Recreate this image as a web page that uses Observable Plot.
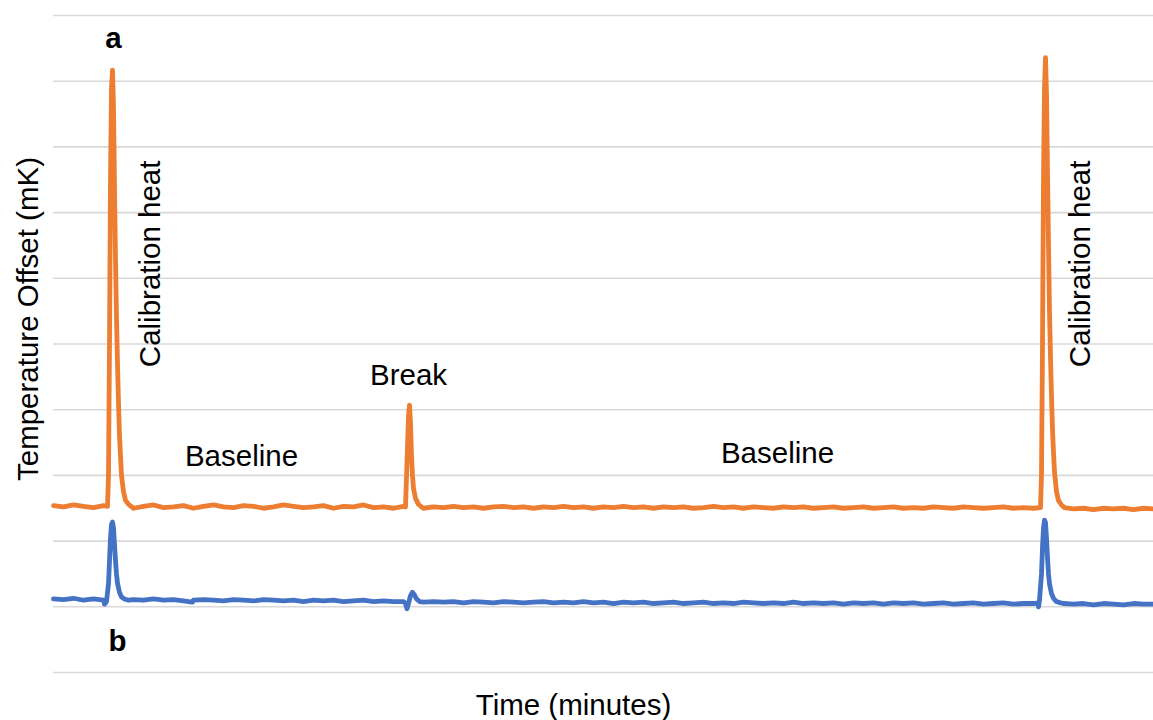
<!DOCTYPE html>
<html>
<head>
<meta charset="utf-8">
<script src="https://cdn.jsdelivr.net/npm/d3@7"></script>
<script src="https://cdn.jsdelivr.net/npm/@observablehq/plot@0.6"></script>
<style>
  body { margin: 0; background: #ffffff; }
  svg { font-family: "Liberation Sans", Arial, sans-serif; }
</style>
</head>
<body>
<div id="chart"></div>
<script>
// Trace a (orange): [time (min), temperature offset (grid units)]
const traceA = [
  [0,1.54],[1,1.52],[2,1.55],[3,1.53],[4,1.51],[5,1.54],[5.4,1.53],
  [5.5,2.0],[5.6,4.0],[5.7,6.5],[5.8,7.9],[5.9,8.17],[6.0,7.6],[6.1,6.4],[6.2,5.3],[6.3,4.4],
  [6.4,3.7],[6.5,3.1],[6.6,2.6],[6.7,2.3],[6.8,2.0],[7.0,1.75],[7.2,1.62],[7.5,1.56],
  [8,1.50],[9,1.53],[10,1.55],[11,1.51],[12,1.52],[13,1.54],[14,1.50],[15,1.53],[16,1.55],
  [17,1.52],[18,1.51],[19,1.54],[20,1.53],[21,1.50],[22,1.52],[23,1.55],[24,1.53],[25,1.51],
  [26,1.52],[27,1.54],[28,1.50],[29,1.53],[30,1.52],[31,1.55],[32,1.51],[33,1.52],[34,1.50],
  [35,1.53],[35.2,1.52],
  [35.35,2.2],[35.5,2.9],[35.6,3.07],[35.7,2.8],[35.8,2.3],[35.9,2.0],[36.0,1.8],[36.2,1.65],
  [36.5,1.56],[36.8,1.52],
  [37,1.50],[38,1.52],[39,1.51],[40,1.53],[41,1.51],[42,1.52],[43,1.50],[44,1.52],[45,1.53],
  [46,1.51],[47,1.52],[48,1.50],[49,1.52],[50,1.51],[51,1.53],[52,1.51],[53,1.52],[54,1.50],
  [55,1.52],[56,1.51],[57,1.53],[58,1.51],[59,1.52],[60,1.50],[61,1.52],[62,1.51],[63,1.52],
  [64,1.50],[65,1.51],[66,1.53],[67,1.51],[68,1.52],[69,1.50],[70,1.52],[71,1.51],[72,1.50],
  [73,1.52],[74,1.51],[75,1.52],[76,1.50],[77,1.51],[78,1.52],[79,1.50],[80,1.51],[81,1.52],
  [82,1.50],[83,1.51],[84,1.52],[85,1.50],[86,1.51],[87,1.50],[88,1.52],[89,1.51],[90,1.50],
  [91,1.52],[92,1.51],[93,1.50],[94,1.51],[95,1.52],[96,1.50],[97,1.51],[98,1.50],[98.7,1.51],
  [98.8,2.0],[98.9,4.0],[99.0,6.5],[99.1,7.9],[99.2,8.36],[99.3,7.8],[99.4,6.6],[99.5,5.5],
  [99.6,4.5],[99.7,3.8],[99.8,3.2],[99.9,2.7],[100.0,2.35],[100.1,2.05],[100.3,1.75],
  [100.5,1.62],[100.8,1.55],[101.1,1.51],
  [102,1.49],[103,1.50],[104,1.48],[105,1.50],[106,1.49],[107,1.50],[108,1.48],[109,1.50],[110,1.49]
];

// Trace b (blue)
const traceB = [
  [0,0.12],[1,0.11],[2,0.13],[3,0.10],[4,0.12],[5,0.10],[5.1,0.04],[5.3,0.08],
  [5.5,0.35],[5.6,0.7],[5.7,1.05],[5.8,1.25],[5.9,1.29],[6.0,1.2],[6.1,0.95],[6.2,0.7],
  [6.3,0.5],[6.4,0.36],[6.6,0.22],[6.8,0.15],[7.1,0.12],[7.5,0.10],
  [8,0.11],[9,0.10],[10,0.12],[11,0.10],[12,0.11],[13,0.09],[13.9,0.07],[14,0.10],[15,0.11],
  [16,0.10],[17,0.09],[18,0.11],[19,0.10],[20,0.09],[21,0.11],[22,0.10],[23,0.09],[24,0.10],
  [25,0.08],[26,0.10],[27,0.09],[28,0.10],[29,0.08],[30,0.09],[31,0.10],[32,0.08],[33,0.09],
  [34,0.08],[35,0.08],[35.2,0.05],
  [35.35,-0.03],[35.5,0.05],[35.7,0.17],[35.9,0.22],[36.1,0.18],[36.3,0.12],[36.6,0.08],
  [37,0.07],[38,0.08],[39,0.07],[40,0.08],[41,0.06],[42,0.08],[43,0.07],[44,0.06],[45,0.08],
  [46,0.07],[47,0.06],[48,0.07],[49,0.08],[50,0.06],[51,0.07],[52,0.06],[53,0.08],[54,0.06],
  [55,0.07],[56,0.05],[57,0.07],[58,0.06],[59,0.07],[60,0.05],[61,0.06],[62,0.07],[63,0.05],
  [64,0.06],[65,0.07],[66,0.05],[67,0.06],[68,0.05],[69,0.07],[70,0.06],[71,0.05],[72,0.06],
  [73,0.05],[74,0.07],[75,0.05],[76,0.06],[77,0.05],[78,0.06],[79,0.04],[80,0.06],[81,0.05],
  [82,0.06],[83,0.04],[84,0.06],[85,0.05],[86,0.06],[87,0.04],[88,0.05],[89,0.06],[90,0.04],
  [91,0.05],[92,0.06],[93,0.04],[94,0.05],[95,0.06],[96,0.04],[97,0.05],[98,0.05],[98.4,0.06],
  [98.5,0.0],[98.6,0.1],[98.8,0.5],[98.9,0.9],[99.0,1.2],[99.1,1.32],[99.2,1.28],[99.3,1.05],
  [99.4,0.75],[99.5,0.5],[99.6,0.35],[99.8,0.2],[100.0,0.13],[100.3,0.08],[100.7,0.06],
  [101,0.05],[102,0.04],[103,0.05],[104,0.03],[105,0.05],[106,0.04],[107,0.03],[108,0.05],
  [109,0.04],[110,0.04]
];

const gridValues = [-1, 0, 1, 2, 3, 4, 5, 6, 7, 8, 9];

const labels = [
  {text: "a", t: 6.0, v: 8.65, bold: true, rotate: 0},
  {text: "b", t: 6.4, v: -0.53, bold: true, rotate: 0},
  {text: "Break", t: 35.5, v: 3.52, bold: false, rotate: 0},
  {text: "Baseline", t: 18.8, v: 2.28, bold: false, rotate: 0},
  {text: "Baseline", t: 72.4, v: 2.33, bold: false, rotate: 0},
  {text: "Calibration heat", t: 9.7, v: 5.22, bold: false, rotate: -90},
  {text: "Calibration heat", t: 102.7, v: 5.22, bold: false, rotate: -90}
];

const xTitle = "Time (minutes)";
const yTitle = "Temperature Offset (mK)";

const FS = 29.5;
const plainLabels = labels.filter(d => !d.bold && d.rotate === 0);
const rotLabels = labels.filter(d => d.rotate !== 0);
const boldLabels = labels.filter(d => d.bold);

const chart = Plot.plot({
  width: 1153,
  height: 720,
  marginLeft: 53,
  marginRight: 0,
  marginTop: 15,
  marginBottom: 48,
  x: {domain: [0, 110], axis: null},
  y: {domain: [-1, 9], axis: null},
  style: {background: "#ffffff", fontFamily: "'Liberation Sans', Arial, sans-serif"},
  marks: [
    Plot.ruleY(gridValues, {stroke: "#d9d9d9", strokeWidth: 1.6}),
    Plot.line(traceB, {x: d => d[0], y: d => d[1], stroke: "#4472C4", strokeWidth: 4.8, strokeLinejoin: "round", strokeLinecap: "round"}),
    Plot.line(traceA, {x: d => d[0], y: d => d[1], stroke: "#ED7D31", strokeWidth: 4.8, strokeLinejoin: "round", strokeLinecap: "round"}),
    Plot.text(plainLabels, {x: "t", y: "v", text: "text", fontSize: FS, fill: "#000"}),
    Plot.text(boldLabels, {x: "t", y: "v", text: "text", fontSize: FS, fontWeight: "bold", fill: "#000"}),
    Plot.text(rotLabels, {x: "t", y: "v", text: "text", fontSize: FS, rotate: -90, fill: "#000"}),
    Plot.text([xTitle], {text: d => d, frameAnchor: "bottom", textAnchor: "middle", dx: -30, dy: 42, fontSize: FS, fill: "#000"}),
    Plot.text([yTitle], {text: d => d, frameAnchor: "left", textAnchor: "middle", dx: -25, dy: -25, rotate: -90, fontSize: FS, fill: "#000"})
  ]
});
document.getElementById("chart").appendChild(chart);
</script>
</body>
</html>
